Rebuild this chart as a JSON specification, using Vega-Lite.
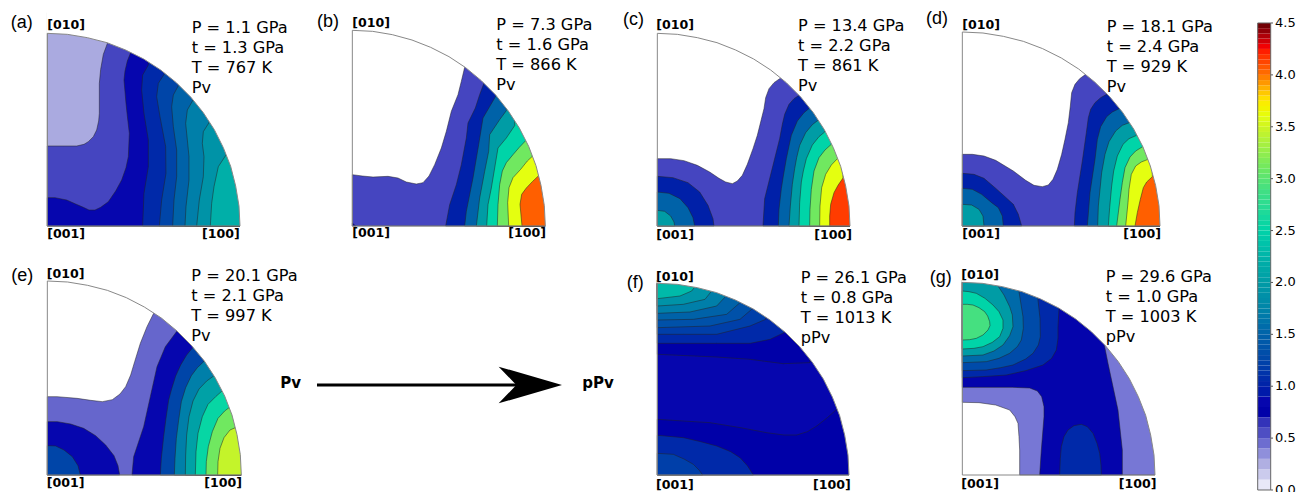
{"$schema":"https://vega.github.io/schema/vega-lite/v6.json","padding":0,"background":"white","spacing":0,
"config":{"view":{"stroke":null},"style":{"info":{"font":"DejaVu Sans","fontSize":16.2,"align":"left","baseline":"alphabetic","fill":"#2a2a2a"},"letter":{"font":"Liberation Sans","fontSize":18,"align":"left","baseline":"alphabetic","fill":"#2a2a2a"},"dir":{"font":"DejaVu Sans","fontWeight":"bold","fontSize":12.6,"align":"left","baseline":"alphabetic","fill":"#111"},"big":{"font":"DejaVu Sans","fontWeight":"bold","fontSize":15,"align":"left","baseline":"alphabetic","fill":"#111"},"tick":{"font":"DejaVu Sans","fontSize":13,"align":"left","baseline":"middle","fill":"#2a2a2a"}}},
"resolve":{"scale":{"color":"shared"}},
"datasets":{
"bands":[
{"p":"a","v":0.27,"type":"Polygon","coordinates":[[[0,0],[0,640],[640,640],[640,0],[0,0]]]},
{"p":"a","v":0.58,"type":"Polygon","coordinates":[[[0,0],[0,240],[50,240],[88,240],[110,245],[123,253],[138,268],[148,288],[154,315],[156,338],[156,428],[160,470],[168,515],[181,550],[181,640],[640,640],[640,0],[0,0]]]},
{"p":"a","v":0.85,"type":"Polygon","coordinates":[[[0,0],[0,85],[23,85],[58,78],[85,66],[108,56],[125,48],[143,48],[160,56],[183,73],[205,105],[223,138],[236,175],[243,208],[246,278],[240,330],[236,368],[230,438],[233,465],[240,495],[250,520],[250,640],[640,640],[640,0],[0,0]]]},
{"p":"a","v":1.05,"type":"Polygon","coordinates":[[[303,483],[286,453],[283,408],[290,338],[303,258],[303,178],[290,98],[286,0],[640,0],[640,640],[303,640],[303,483]]]},
{"p":"a","v":1.25,"type":"Polygon","coordinates":[[[351,456],[333,428],[328,388],[338,328],[355,238],[356,158],[343,78],[336,0],[640,0],[640,640],[351,640],[351,456]]]},
{"p":"a","v":1.5,"type":"Polygon","coordinates":[[[393,421],[378,393],[373,358],[378,298],[388,228],[388,148],[380,78],[376,0],[640,0],[640,640],[393,640],[393,421]]]},
{"p":"a","v":1.7,"type":"Polygon","coordinates":[[[436,376],[420,348],[415,308],[420,258],[425,208],[425,138],[416,58],[413,0],[640,0],[640,640],[436,640],[436,376]]]},
{"p":"a","v":1.9,"type":"Polygon","coordinates":[[[485,310],[468,283],[465,248],[470,208],[468,148],[456,78],[448,0],[640,0],[640,640],[485,640],[485,310]]]},
{"p":"a","v":2.2,"type":"Polygon","coordinates":[[[536,213],[513,178],[500,118],[493,68],[489,0],[640,0],[640,640],[536,640],[536,213]]]},
{"p":"b","v":0.58,"type":"Polygon","coordinates":[[[0,0],[0,154],[30,150],[62,147],[107,149],[137,144],[162,132],[192,126],[212,130],[230,150],[247,184],[267,234],[282,284],[297,344],[317,394],[327,434],[337,476],[337,640],[640,640],[640,0],[0,0]]]},
{"p":"b","v":0.85,"type":"Polygon","coordinates":[[[0,0],[0,9],[10,0],[0,0]]]},
{"p":"b","v":1.0,"type":"Polygon","coordinates":[[[394,426],[382,394],[369,354],[347,309],[342,264],[327,184],[312,124],[292,64],[280,0],[640,0],[640,640],[394,640],[394,426]]]},
{"p":"b","v":1.5,"type":"Polygon","coordinates":[[[430,389],[392,324],[379,244],[362,144],[342,44],[337,0],[640,0],[640,640],[430,640],[430,389]]]},
{"p":"b","v":2.0,"type":"Polygon","coordinates":[[[462,346],[442,319],[412,274],[409,224],[397,164],[382,84],[372,0],[640,0],[640,640],[462,640],[462,346]]]},
{"p":"b","v":2.5,"type":"Polygon","coordinates":[[[487,301],[462,264],[437,234],[427,174],[417,114],[407,64],[403,0],[640,0],[640,640],[487,640],[487,301]]]},
{"p":"b","v":3.1,"type":"Polygon","coordinates":[[[520,256],[500,235],[482,214],[462,190],[450,165],[442,124],[437,64],[435,0],[640,0],[640,640],[520,640],[520,256]]]},
{"p":"b","v":3.6,"type":"Polygon","coordinates":[[[540,209],[525,195],[505,170],[482,145],[470,115],[466,70],[469,0],[640,0],[640,640],[540,640],[540,209]]]},
{"p":"b","v":4.05,"type":"Polygon","coordinates":[[[560,152],[540,133],[522,114],[508,95],[503,65],[509,0],[640,0],[640,640],[560,640],[560,152]]]},
{"p":"c","v":0.58,"type":"Polygon","coordinates":[[[0,0],[0,202],[40,202],[80,196],[120,182],[157,162],[185,143],[205,132],[225,127],[240,135],[255,152],[270,185],[287,232],[300,272],[312,320],[320,352],[325,385],[335,412],[350,430],[370,444],[370,640],[640,640],[640,0],[0,0]]]},
{"p":"c","v":1.0,"type":"Polygon","coordinates":[[[425,392],[410,382],[395,365],[382,335],[375,305],[367,262],[347,182],[322,82],[317,0],[640,0],[640,640],[425,640],[425,392]]]},
{"p":"c","v":1.0,"type":"Polygon","coordinates":[[[0,0],[0,149],[47,145],[92,130],[127,102],[152,62],[167,22],[170,0],[0,0]]]},
{"p":"c","v":1.5,"type":"Polygon","coordinates":[[[457,354],[440,340],[420,315],[402,272],[395,240],[387,202],[378,150],[372,112],[365,50],[363,0],[640,0],[640,640],[457,640],[457,354]]]},
{"p":"c","v":1.5,"type":"Polygon","coordinates":[[[0,0],[0,102],[35,98],[68,82],[92,55],[107,25],[112,0],[0,0]]]},
{"p":"c","v":2.0,"type":"Polygon","coordinates":[[[482,317],[465,304],[445,280],[427,242],[418,205],[412,172],[405,125],[399,60],[395,0],[640,0],[640,640],[482,640],[482,317]]]},
{"p":"c","v":2.0,"type":"Polygon","coordinates":[[[0,0],[0,47],[22,44],[40,30],[50,12],[52,0],[0,0]]]},
{"p":"c","v":2.5,"type":"Polygon","coordinates":[[[502,282],[485,268],[465,243],[447,202],[438,165],[432,132],[427,70],[425,0],[640,0],[640,640],[502,640],[502,282]]]},
{"p":"c","v":3.1,"type":"Polygon","coordinates":[[[522,245],[503,228],[485,205],[470,165],[462,110],[458,50],[457,0],[640,0],[640,640],[522,640],[522,245]]]},
{"p":"c","v":3.6,"type":"Polygon","coordinates":[[[542,204],[522,183],[505,155],[493,115],[488,60],[487,0],[640,0],[640,640],[542,640],[542,204]]]},
{"p":"c","v":4.15,"type":"Polygon","coordinates":[[[557,144],[542,122],[530,100],[520,65],[517,30],[517,0],[640,0],[640,640],[557,640],[557,144]]]},
{"p":"d","v":0.58,"type":"Polygon","coordinates":[[[0,0],[0,215],[30,215],[65,210],[100,197],[153,165],[190,137],[215,122],[240,118],[258,123],[272,140],[285,170],[298,215],[308,260],[318,310],[324,360],[328,400],[338,425],[352,442],[370,455],[370,640],[640,640],[640,0],[0,0]]]},
{"p":"d","v":1.0,"type":"Polygon","coordinates":[[[433,395],[415,385],[398,370],[385,350],[378,325],[372,280],[360,195],[345,100],[338,40],[336,0],[640,0],[640,640],[433,640],[433,395]]]},
{"p":"d","v":1.0,"type":"Polygon","coordinates":[[[0,0],[0,158],[35,155],[65,143],[98,115],[128,88],[153,65],[168,35],[178,0],[0,0]]]},
{"p":"d","v":1.5,"type":"Polygon","coordinates":[[[470,352],[450,342],[433,328],[415,298],[405,260],[398,200],[383,100],[375,0],[640,0],[640,640],[470,640],[470,352]]]},
{"p":"d","v":1.5,"type":"Polygon","coordinates":[[[0,0],[0,113],[30,110],[58,95],[88,70],[108,55],[120,30],[123,0],[0,0]]]},
{"p":"d","v":2.0,"type":"Polygon","coordinates":[[[501,310],[480,302],[460,285],[440,253],[428,215],[418,160],[408,60],[406,0],[640,0],[640,640],[501,640],[501,310]]]},
{"p":"d","v":2.0,"type":"Polygon","coordinates":[[[0,0],[0,65],[28,63],[50,50],[62,30],[65,0],[0,0]]]},
{"p":"d","v":2.5,"type":"Polygon","coordinates":[[[523,272],[500,262],[482,245],[465,210],[454,165],[448,120],[442,55],[438,0],[640,0],[640,640],[523,640],[523,272]]]},
{"p":"d","v":3.1,"type":"Polygon","coordinates":[[[541,238],[520,225],[503,207],[488,175],[480,130],[473,80],[463,0],[640,0],[640,640],[541,640],[541,238]]]},
{"p":"d","v":3.6,"type":"Polygon","coordinates":[[[557,200],[537,192],[520,180],[507,155],[500,110],[497,70],[490,0],[640,0],[640,640],[557,640],[557,200]]]},
{"p":"d","v":4.05,"type":"Polygon","coordinates":[[[570,148],[553,132],[543,115],[534,80],[525,40],[518,0],[640,0],[640,640],[570,640],[570,148]]]},
{"p":"e","v":0.47,"type":"Polygon","coordinates":[[[0,0],[0,235],[29,235],[89,230],[130,224],[165,220],[195,226],[218,243],[235,265],[250,300],[262,340],[279,395],[299,445],[319,485],[319,640],[640,640],[640,0],[0,0]]]},
{"p":"e","v":0.85,"type":"Polygon","coordinates":[[[389,432],[354,385],[329,325],[309,235],[289,145],[259,55],[254,0],[640,0],[640,640],[389,640],[389,432]]]},
{"p":"e","v":0.85,"type":"Polygon","coordinates":[[[0,0],[0,160],[30,160],[70,153],[109,140],[145,118],[175,90],[200,58],[212,28],[217,0],[0,0]]]},
{"p":"e","v":1.25,"type":"Polygon","coordinates":[[[0,0],[0,88],[25,87],[50,75],[75,55],[92,28],[99,0],[0,0]]]},
{"p":"e","v":1.25,"type":"Polygon","coordinates":[[[437,383],[418,360],[400,330],[385,297],[372,255],[364,225],[356,170],[349,115],[342,50],[339,0],[640,0],[640,640],[437,640],[437,383]]]},
{"p":"e","v":1.7,"type":"Polygon","coordinates":[[[469,340],[450,322],[432,298],[415,262],[402,220],[394,165],[387,110],[383,50],[381,0],[640,0],[640,640],[469,640],[469,340]]]},
{"p":"e","v":2.05,"type":"Polygon","coordinates":[[[499,297],[478,282],[455,258],[437,222],[425,175],[418,120],[415,60],[414,0],[640,0],[640,640],[499,640],[499,297]]]},
{"p":"e","v":2.55,"type":"Polygon","coordinates":[[[524,252],[505,235],[482,212],[465,175],[452,125],[446,70],[444,0],[640,0],[640,640],[524,640],[524,252]]]},
{"p":"e","v":3.1,"type":"Polygon","coordinates":[[[549,205],[532,192],[512,170],[495,130],[483,85],[477,40],[476,0],[640,0],[640,640],[549,640],[549,205]]]},
{"p":"e","v":3.45,"type":"Polygon","coordinates":[[[564,142],[548,135],[530,112],[518,80],[512,40],[511,0],[640,0],[640,640],[564,640],[564,142]]]},
{"p":"f","v":0.85,"type":"Polygon","coordinates":[[[0,0],[0,585],[640,640],[640,0],[0,0]]]},
{"p":"f","v":0.72,"type":"Polygon","coordinates":[[[0,362],[178,354],[278,347],[378,334],[458,337],[458,640],[0,585],[0,362]]]},
{"p":"f","v":1.05,"type":"Polygon","coordinates":[[[0,395],[178,395],[278,395],[338,407],[380,427],[380,640],[0,585],[0,395]]]},
{"p":"f","v":1.2,"type":"Polygon","coordinates":[[[0,422],[78,422],[178,422],[278,447],[325,467],[325,640],[0,585],[0,422]]]},
{"p":"f","v":1.35,"type":"Polygon","coordinates":[[[0,442],[158,447],[248,467],[283,497],[283,640],[0,585],[0,442]]]},
{"p":"f","v":1.5,"type":"Polygon","coordinates":[[[0,465],[108,467],[208,482],[248,517],[248,640],[0,585],[0,465]]]},
{"p":"f","v":1.7,"type":"Polygon","coordinates":[[[0,485],[98,489],[178,507],[208,539],[208,640],[0,585],[0,485]]]},
{"p":"f","v":1.9,"type":"Polygon","coordinates":[[[0,507],[78,512],[143,527],[163,552],[163,640],[0,585],[0,507]]]},
{"p":"f","v":2.3,"type":"Polygon","coordinates":[[[0,529],[68,537],[103,552],[113,565],[113,640],[0,585],[0,529]]]},
{"p":"f","v":0.72,"type":"Polygon","coordinates":[[[0,167],[158,157],[250,142],[328,127],[380,120],[418,120],[450,130],[478,147],[510,172],[538,197],[640,197],[640,0],[0,0],[0,167]]]},
{"p":"f","v":1.05,"type":"Polygon","coordinates":[[[0,119],[78,112],[130,100],[178,87],[220,70],[248,52],[270,28],[288,0],[0,0],[0,119]]]},
{"p":"f","v":1.2,"type":"Polygon","coordinates":[[[0,65],[48,62],[80,48],[108,32],[125,15],[136,0],[0,0],[0,65]]]},
{"p":"g","v":0.42,"type":"Polygon","coordinates":[[[0,218],[50,217],[100,210],[142,195],[158,175],[167,155],[170,115],[172,75],[172,0],[640,0],[640,640],[0,585],[0,218]]]},
{"p":"g","v":0.8,"type":"Polygon","coordinates":[[[232,0],[237,75],[245,175],[245,205],[238,235],[225,252],[202,261],[150,263],[0,263],[0,585],[427,640],[427,385],[437,335],[467,195],[480,75],[480,0],[232,0]]]},
{"p":"g","v":1.05,"type":"Polygon","coordinates":[[[292,0],[294,50],[297,85],[305,115],[317,135],[335,148],[357,152],[375,145],[392,125],[404,95],[412,65],[416,30],[417,0],[292,0]]]},
{"p":"g","v":1.05,"type":"Polygon","coordinates":[[[0,292],[60,295],[132,300],[190,313],[242,330],[268,350],[282,375],[287,410],[287,445],[290,497],[290,640],[0,585],[0,292]]]},
{"p":"g","v":1.3,"type":"Polygon","coordinates":[[[0,313],[72,315],[115,322],[152,330],[190,348],[212,365],[228,390],[234,415],[233,470],[227,525],[227,640],[0,585],[0,313]]]},
{"p":"g","v":1.55,"type":"Polygon","coordinates":[[[0,337],[72,340],[110,350],[142,365],[165,385],[177,405],[183,440],[182,475],[170,550],[170,640],[0,585],[0,337]]]},
{"p":"g","v":2.0,"type":"Polygon","coordinates":[[[0,357],[62,360],[95,372],[122,390],[142,418],[152,445],[150,480],[142,505],[125,540],[107,567],[107,640],[0,585],[0,357]]]},
{"p":"g","v":2.5,"type":"Polygon","coordinates":[[[0,378],[35,380],[62,385],[90,398],[112,415],[122,440],[122,465],[110,490],[92,510],[68,530],[42,545],[20,550],[0,552],[0,378]]]},
{"p":"g","v":2.9,"type":"Polygon","coordinates":[[[0,405],[22,406],[42,410],[62,420],[77,435],[83,448],[82,460],[76,477],[67,490],[50,502],[32,510],[15,512],[0,512],[0,405]]]}
],
"masks":[
{"r":"A","type":"Polygon","coordinates":[[[578,0],[575,60],[565,120],[550,179],[528,235],[501,289],[468,340],[430,387],[387,430],[340,468],[289,501],[235,528],[179,550],[120,565],[60,575],[0,578],[-3,578],[-3,660],[660,660],[660,-3],[578,-3],[578,0]]]},
{"r":"B","type":"Polygon","coordinates":[[[579,0],[576,61],[566,122],[551,181],[529,239],[501,294],[468,345],[430,393],[387,436],[340,475],[290,508],[235,536],[179,558],[120,574],[61,584],[0,587],[-3,587],[-3,660],[660,660],[660,-3],[579,-3],[579,0]]]},
{"r":"D","type":"Polygon","coordinates":[[[593,0],[590,61],[580,121],[564,180],[542,237],[514,291],[480,342],[441,389],[397,432],[349,471],[297,504],[241,532],[183,554],[123,569],[62,579],[0,582],[-3,582],[-3,660],[660,660],[660,-3],[593,-3],[593,0]]]},
{"r":"E","type":"Polygon","coordinates":[[[582,0],[579,61],[569,121],[554,180],[532,237],[504,291],[471,342],[432,389],[389,432],[342,471],[291,504],[237,532],[180,554],[121,569],[61,579],[0,582],[-3,582],[-3,660],[660,660],[660,-3],[582,-3],[582,0]]]},
{"r":"F","type":"Polygon","coordinates":[[[575,0],[572,60],[562,120],[547,178],[525,234],[498,288],[465,338],[427,385],[385,427],[338,465],[288,498],[234,525],[178,547],[120,562],[60,572],[0,575],[-3,575],[-3,660],[660,660],[660,-3],[575,-3],[575,0]]]}
],
"outlines":[
{"r":"A","type":"Polygon","coordinates":[[[0,0],[578,0],[575,60],[565,120],[550,179],[528,235],[501,289],[468,340],[430,387],[387,430],[340,468],[289,501],[235,528],[179,550],[120,565],[60,575],[0,578],[0,0]]]},
{"r":"B","type":"Polygon","coordinates":[[[0,0],[579,0],[576,61],[566,122],[551,181],[529,239],[501,294],[468,345],[430,393],[387,436],[340,475],[290,508],[235,536],[179,558],[120,574],[61,584],[0,587],[0,0]]]},
{"r":"D","type":"Polygon","coordinates":[[[0,0],[593,0],[590,61],[580,121],[564,180],[542,237],[514,291],[480,342],[441,389],[397,432],[349,471],[297,504],[241,532],[183,554],[123,569],[62,579],[0,582],[0,0]]]},
{"r":"E","type":"Polygon","coordinates":[[[0,0],[582,0],[579,61],[569,121],[554,180],[532,237],[504,291],[471,342],[432,389],[389,432],[342,471],[291,504],[237,532],[180,554],[121,569],[61,579],[0,582],[0,0]]]},
{"r":"F","type":"Polygon","coordinates":[[[0,0],[575,0],[572,60],[562,120],[547,178],[525,234],[498,288],[465,338],[427,385],[385,427],[338,465],[288,498],[234,525],[178,547],[120,562],[60,572],[0,575],[0,0]]]}
],
"labels":[
{"p":"a","k":"i","x":433,"y":580,"t":"P = 1.1 GPa"},{"p":"a","k":"i","x":433,"y":520,"t":"t = 1.3 GPa"},{"p":"a","k":"i","x":433,"y":460,"t":"T = 767 K"},{"p":"a","k":"i","x":433,"y":400,"t":"Pv"},
{"p":"b","k":"i","x":432,"y":587,"t":"P = 7.3 GPa"},{"p":"b","k":"i","x":432,"y":527,"t":"t = 1.6 GPa"},{"p":"b","k":"i","x":432,"y":467,"t":"T = 866 K"},{"p":"b","k":"i","x":432,"y":407,"t":"Pv"},
{"p":"c","k":"i","x":422,"y":585,"t":"P = 13.4 GPa"},{"p":"c","k":"i","x":422,"y":525,"t":"t = 2.2 GPa"},{"p":"c","k":"i","x":422,"y":465,"t":"T = 861 K"},{"p":"c","k":"i","x":422,"y":405,"t":"Pv"},
{"p":"d","k":"i","x":433,"y":583,"t":"P = 18.1 GPa"},{"p":"d","k":"i","x":433,"y":523,"t":"t = 2.4 GPa"},{"p":"d","k":"i","x":433,"y":463,"t":"T = 929 K"},{"p":"d","k":"i","x":433,"y":403,"t":"Pv"},
{"p":"e","k":"i","x":432,"y":583,"t":"P = 20.1 GPa"},{"p":"e","k":"i","x":432,"y":523,"t":"t = 2.1 GPa"},{"p":"e","k":"i","x":432,"y":463,"t":"T = 997 K"},{"p":"e","k":"i","x":432,"y":403,"t":"Pv"},
{"p":"f","k":"i","x":430,"y":577,"t":"P = 26.1 GPa"},{"p":"f","k":"i","x":430,"y":517,"t":"t = 0.8 GPa"},{"p":"f","k":"i","x":430,"y":457,"t":"T = 1013 K"},{"p":"f","k":"i","x":430,"y":397,"t":"pPv"},
{"p":"g","k":"i","x":430,"y":580,"t":"P = 29.6 GPa"},{"p":"g","k":"i","x":430,"y":520,"t":"t = 1.0 GPa"},{"p":"g","k":"i","x":430,"y":460,"t":"T = 1003 K"},{"p":"g","k":"i","x":430,"y":400,"t":"pPv"},
{"p":"a","k":"l","x":-110,"y":593,"t":"(a)"},{"p":"b","k":"l","x":-106,"y":596,"t":"(b)"},{"p":"c","k":"l","x":-103,"y":604,"t":"(c)"},{"p":"d","k":"l","x":-109,"y":605,"t":"(d)"},{"p":"e","k":"l","x":-108,"y":582,"t":"(e)"},{"p":"f","k":"l","x":-92,"y":560,"t":"(f)"},{"p":"g","k":"l","x":-98,"y":575,"t":"(g)"},
{"p":"a","k":"d","x":0,"y":590,"t":"[010]"},{"p":"a","k":"d","x":0,"y":-37,"t":"[001]"},{"p":"a","k":"d","x":464,"y":-37,"t":"[100]"},
{"p":"b","k":"d","x":0,"y":596,"t":"[010]"},{"p":"b","k":"d","x":0,"y":-34,"t":"[001]"},{"p":"b","k":"d","x":468,"y":-34,"t":"[100]"},
{"p":"c","k":"d","x":-3,"y":590,"t":"[010]"},{"p":"c","k":"d","x":-3,"y":-38,"t":"[001]"},{"p":"c","k":"d","x":471,"y":-38,"t":"[100]"},
{"p":"d","k":"d","x":0,"y":590,"t":"[010]"},{"p":"d","k":"d","x":0,"y":-37,"t":"[001]"},{"p":"d","k":"d","x":483,"y":-37,"t":"[100]"},
{"p":"e","k":"d","x":-2,"y":590,"t":"[010]"},{"p":"e","k":"d","x":-2,"y":-37,"t":"[001]"},{"p":"e","k":"d","x":471,"y":-37,"t":"[100]"},
{"p":"f","k":"d","x":-4,"y":582,"t":"[010]"},{"p":"f","k":"d","x":-4,"y":-41,"t":"[001]"},{"p":"f","k":"d","x":467,"y":-41,"t":"[100]"},
{"p":"g","k":"d","x":-3,"y":587,"t":"[010]"},{"p":"g","k":"d","x":-3,"y":-39,"t":"[001]"},{"p":"g","k":"d","x":469,"y":-39,"t":"[100]"},
{"p":"e","k":"b","x":699,"y":260,"t":"Pv"},
{"p":"e","k":"b","x":1605,"y":260,"t":"pPv"}
],
"colorbar":[{"lo":0,"hi":0.1,"v":0.05},{"lo":0.1,"hi":0.2,"v":0.15},{"lo":0.2,"hi":0.3,"v":0.25},{"lo":0.3,"hi":0.4,"v":0.35},{"lo":0.4,"hi":0.5,"v":0.45},{"lo":0.5,"hi":0.6,"v":0.55},{"lo":0.6,"hi":0.7,"v":0.65},{"lo":0.7,"hi":0.8,"v":0.75},{"lo":0.8,"hi":0.9,"v":0.85},{"lo":0.9,"hi":1.0,"v":0.95},{"lo":1.0,"hi":1.05,"v":1.02},{"lo":1.05,"hi":1.1,"v":1.07},{"lo":1.1,"hi":1.15,"v":1.12},{"lo":1.15,"hi":1.2,"v":1.17},{"lo":1.2,"hi":1.25,"v":1.22},{"lo":1.25,"hi":1.3,"v":1.27},{"lo":1.3,"hi":1.35,"v":1.32},{"lo":1.35,"hi":1.4,"v":1.37},{"lo":1.4,"hi":1.45,"v":1.42},{"lo":1.45,"hi":1.5,"v":1.47},{"lo":1.5,"hi":1.55,"v":1.52},{"lo":1.55,"hi":1.6,"v":1.57},{"lo":1.6,"hi":1.65,"v":1.62},{"lo":1.65,"hi":1.7,"v":1.67},{"lo":1.7,"hi":1.75,"v":1.72},{"lo":1.75,"hi":1.8,"v":1.77},{"lo":1.8,"hi":1.85,"v":1.82},{"lo":1.85,"hi":1.9,"v":1.87},{"lo":1.9,"hi":1.95,"v":1.92},{"lo":1.95,"hi":2.0,"v":1.97},{"lo":2.0,"hi":2.05,"v":2.02},{"lo":2.05,"hi":2.1,"v":2.07},{"lo":2.1,"hi":2.15,"v":2.12},{"lo":2.15,"hi":2.2,"v":2.17},{"lo":2.2,"hi":2.25,"v":2.22},{"lo":2.25,"hi":2.3,"v":2.27},{"lo":2.3,"hi":2.35,"v":2.32},{"lo":2.35,"hi":2.4,"v":2.37},{"lo":2.4,"hi":2.45,"v":2.42},{"lo":2.45,"hi":2.5,"v":2.47},{"lo":2.5,"hi":2.55,"v":2.52},{"lo":2.55,"hi":2.6,"v":2.57},{"lo":2.6,"hi":2.65,"v":2.62},{"lo":2.65,"hi":2.7,"v":2.67},{"lo":2.7,"hi":2.75,"v":2.72},{"lo":2.75,"hi":2.8,"v":2.77},{"lo":2.8,"hi":2.85,"v":2.82},{"lo":2.85,"hi":2.9,"v":2.87},{"lo":2.9,"hi":2.95,"v":2.92},{"lo":2.95,"hi":3.0,"v":2.97},{"lo":3.0,"hi":3.05,"v":3.02},{"lo":3.05,"hi":3.1,"v":3.07},{"lo":3.1,"hi":3.15,"v":3.12},{"lo":3.15,"hi":3.2,"v":3.17},{"lo":3.2,"hi":3.25,"v":3.22},{"lo":3.25,"hi":3.3,"v":3.27},{"lo":3.3,"hi":3.35,"v":3.32},{"lo":3.35,"hi":3.4,"v":3.37},{"lo":3.4,"hi":3.45,"v":3.42},{"lo":3.45,"hi":3.5,"v":3.47},{"lo":3.5,"hi":3.55,"v":3.52},{"lo":3.55,"hi":3.6,"v":3.57},{"lo":3.6,"hi":3.65,"v":3.62},{"lo":3.65,"hi":3.7,"v":3.67},{"lo":3.7,"hi":3.75,"v":3.72},{"lo":3.75,"hi":3.8,"v":3.77},{"lo":3.8,"hi":3.85,"v":3.82},{"lo":3.85,"hi":3.9,"v":3.87},{"lo":3.9,"hi":3.95,"v":3.92},{"lo":3.95,"hi":4.0,"v":3.97},{"lo":4.0,"hi":4.05,"v":4.02},{"lo":4.05,"hi":4.1,"v":4.07},{"lo":4.1,"hi":4.15,"v":4.12},{"lo":4.15,"hi":4.2,"v":4.17},{"lo":4.2,"hi":4.25,"v":4.22},{"lo":4.25,"hi":4.3,"v":4.27},{"lo":4.3,"hi":4.35,"v":4.32},{"lo":4.35,"hi":4.4,"v":4.37},{"lo":4.4,"hi":4.45,"v":4.42},{"lo":4.45,"hi":4.5,"v":4.47}],
"ticks":[{"v":0},{"v":0.5},{"v":1},{"v":1.5},{"v":2},{"v":2.5},{"v":3},{"v":3.5},{"v":4},{"v":4.5}],
"frame":[{"a":0,"b":4.5}],
"arrow":[{"type":"Polygon","coordinates":[[[1544,270],[1354,325],[1407,270],[1354,215],[1544,270]]]}],
"shaft":[{"type":"LineString","coordinates":[[809,270],[1414,270]]}]
},
"hconcat":[
{"concat":[
{"width":305,"height":249,"projection":{"type":"identity","reflectY":true,"scale":0.33333,"translate":[47.33,226]},"layer":[
{"data":{"name":"bands"},"transform":[{"filter":"datum.p=='a'"}],"mark":{"type":"geoshape","stroke":"#222","strokeWidth":0.5},"encoding":{"color":{"field":"v","type":"quantitative","legend":null,"scale":{"domain":[0,0.27,0.42,0.47,0.58,0.66,0.72,0.85,1.0,1.25,1.5,1.75,2.0,2.25,2.5,2.9,3.1,3.5,3.6,3.75,4.0,4.1,4.25,4.5],"range":["#f6f6fd","#aaaae0","#7777d5","#6666cc","#4545c0","#3030b8","#0000a8","#0606ae","#0020a8","#0045a8","#0062a8","#0085a8","#009ca5","#00b4a8","#00d4a8","#45e080","#70e860","#d0f520","#e4ff10","#ffe800","#ff7000","#ff4a00","#ff0000","#600000"]}}}},
{"data":{"name":"masks"},"transform":[{"filter":"datum.r=='A'"}],"mark":{"type":"geoshape","fill":"white","stroke":"white","strokeWidth":0},"encoding":{}},
{"data":{"name":"outlines"},"transform":[{"filter":"datum.r=='A'"}],"mark":{"type":"geoshape","filled":false,"stroke":"#888","strokeWidth":1},"encoding":{}},
{"data":{"name":"labels"},"transform":[{"filter":"datum.p=='a'&&datum.k=='i'"}],"mark":{"type":"text","style":"info"},"encoding":{"longitude":{"field":"x","type":"quantitative"},"latitude":{"field":"y","type":"quantitative"},"text":{"field":"t"}}},
{"data":{"name":"labels"},"transform":[{"filter":"datum.p=='a'&&datum.k=='l'"}],"mark":{"type":"text","style":"letter"},"encoding":{"longitude":{"field":"x","type":"quantitative"},"latitude":{"field":"y","type":"quantitative"},"text":{"field":"t"}}},
{"data":{"name":"labels"},"transform":[{"filter":"datum.p=='a'&&datum.k=='d'"}],"mark":{"type":"text","style":"dir"},"encoding":{"longitude":{"field":"x","type":"quantitative"},"latitude":{"field":"y","type":"quantitative"},"text":{"field":"t"}}}
]},
{"width":305,"height":249,"projection":{"type":"identity","reflectY":true,"scale":0.33333,"translate":[47.67,228]},"layer":[
{"data":{"name":"bands"},"transform":[{"filter":"datum.p=='b'"}],"mark":{"type":"geoshape","stroke":"#222","strokeWidth":0.5},"encoding":{"color":{"field":"v","type":"quantitative","legend":null}}},
{"data":{"name":"masks"},"transform":[{"filter":"datum.r=='B'"}],"mark":{"type":"geoshape","fill":"white","stroke":"white","strokeWidth":0},"encoding":{}},
{"data":{"name":"outlines"},"transform":[{"filter":"datum.r=='B'"}],"mark":{"type":"geoshape","filled":false,"stroke":"#888","strokeWidth":1},"encoding":{}},
{"data":{"name":"labels"},"transform":[{"filter":"datum.p=='b'&&datum.k=='i'"}],"mark":{"type":"text","style":"info"},"encoding":{"longitude":{"field":"x","type":"quantitative"},"latitude":{"field":"y","type":"quantitative"},"text":{"field":"t"}}},
{"data":{"name":"labels"},"transform":[{"filter":"datum.p=='b'&&datum.k=='l'"}],"mark":{"type":"text","style":"letter"},"encoding":{"longitude":{"field":"x","type":"quantitative"},"latitude":{"field":"y","type":"quantitative"},"text":{"field":"t"}}},
{"data":{"name":"labels"},"transform":[{"filter":"datum.p=='b'&&datum.k=='d'"}],"mark":{"type":"text","style":"dir"},"encoding":{"longitude":{"field":"x","type":"quantitative"},"latitude":{"field":"y","type":"quantitative"},"text":{"field":"t"}}}
]},
{"width":305,"height":249,"projection":{"type":"identity","reflectY":true,"scale":0.33333,"translate":[46,227.33]},"layer":[
{"data":{"name":"bands"},"transform":[{"filter":"datum.p=='c'"}],"mark":{"type":"geoshape","stroke":"#222","strokeWidth":0.5},"encoding":{"color":{"field":"v","type":"quantitative","legend":null}}},
{"data":{"name":"masks"},"transform":[{"filter":"datum.r=='A'"}],"mark":{"type":"geoshape","fill":"white","stroke":"white","strokeWidth":0},"encoding":{}},
{"data":{"name":"outlines"},"transform":[{"filter":"datum.r=='A'"}],"mark":{"type":"geoshape","filled":false,"stroke":"#888","strokeWidth":1},"encoding":{}},
{"data":{"name":"labels"},"transform":[{"filter":"datum.p=='c'&&datum.k=='i'"}],"mark":{"type":"text","style":"info"},"encoding":{"longitude":{"field":"x","type":"quantitative"},"latitude":{"field":"y","type":"quantitative"},"text":{"field":"t"}}},
{"data":{"name":"labels"},"transform":[{"filter":"datum.p=='c'&&datum.k=='l'"}],"mark":{"type":"text","style":"letter"},"encoding":{"longitude":{"field":"x","type":"quantitative"},"latitude":{"field":"y","type":"quantitative"},"text":{"field":"t"}}},
{"data":{"name":"labels"},"transform":[{"filter":"datum.p=='c'&&datum.k=='d'"}],"mark":{"type":"text","style":"dir"},"encoding":{"longitude":{"field":"x","type":"quantitative"},"latitude":{"field":"y","type":"quantitative"},"text":{"field":"t"}}}
]},
{"width":305,"height":249,"projection":{"type":"identity","reflectY":true,"scale":0.33333,"translate":[47.33,226.67]},"layer":[
{"data":{"name":"bands"},"transform":[{"filter":"datum.p=='d'"}],"mark":{"type":"geoshape","stroke":"#222","strokeWidth":0.5},"encoding":{"color":{"field":"v","type":"quantitative","legend":null}}},
{"data":{"name":"masks"},"transform":[{"filter":"datum.r=='D'"}],"mark":{"type":"geoshape","fill":"white","stroke":"white","strokeWidth":0},"encoding":{}},
{"data":{"name":"outlines"},"transform":[{"filter":"datum.r=='D'"}],"mark":{"type":"geoshape","filled":false,"stroke":"#888","strokeWidth":1},"encoding":{}},
{"data":{"name":"labels"},"transform":[{"filter":"datum.p=='d'&&datum.k=='i'"}],"mark":{"type":"text","style":"info"},"encoding":{"longitude":{"field":"x","type":"quantitative"},"latitude":{"field":"y","type":"quantitative"},"text":{"field":"t"}}},
{"data":{"name":"labels"},"transform":[{"filter":"datum.p=='d'&&datum.k=='l'"}],"mark":{"type":"text","style":"letter"},"encoding":{"longitude":{"field":"x","type":"quantitative"},"latitude":{"field":"y","type":"quantitative"},"text":{"field":"t"}}},
{"data":{"name":"labels"},"transform":[{"filter":"datum.p=='d'&&datum.k=='d'"}],"mark":{"type":"text","style":"dir"},"encoding":{"longitude":{"field":"x","type":"quantitative"},"latitude":{"field":"y","type":"quantitative"},"text":{"field":"t"}}}
]},
{"width":305,"height":243,"projection":{"type":"identity","reflectY":true,"scale":0.33333,"translate":[47,226]},"layer":[
{"data":{"name":"bands"},"transform":[{"filter":"datum.p=='e'"}],"mark":{"type":"geoshape","stroke":"#222","strokeWidth":0.5},"encoding":{"color":{"field":"v","type":"quantitative","legend":null}}},
{"data":{"name":"masks"},"transform":[{"filter":"datum.r=='E'"}],"mark":{"type":"geoshape","fill":"white","stroke":"white","strokeWidth":0},"encoding":{}},
{"data":{"name":"outlines"},"transform":[{"filter":"datum.r=='E'"}],"mark":{"type":"geoshape","filled":false,"stroke":"#888","strokeWidth":1},"encoding":{}},
{"data":{"name":"shaft"},"mark":{"type":"geoshape","filled":false,"stroke":"#000","strokeWidth":3,"clip":false},"encoding":{}},
{"data":{"name":"arrow"},"mark":{"type":"geoshape","fill":"#000","stroke":"#000","strokeWidth":0,"clip":false},"encoding":{}},
{"data":{"name":"labels"},"transform":[{"filter":"datum.p=='e'&&datum.k=='i'"}],"mark":{"type":"text","style":"info"},"encoding":{"longitude":{"field":"x","type":"quantitative"},"latitude":{"field":"y","type":"quantitative"},"text":{"field":"t"}}},
{"data":{"name":"labels"},"transform":[{"filter":"datum.p=='e'&&datum.k=='l'"}],"mark":{"type":"text","style":"letter"},"encoding":{"longitude":{"field":"x","type":"quantitative"},"latitude":{"field":"y","type":"quantitative"},"text":{"field":"t"}}},
{"data":{"name":"labels"},"transform":[{"filter":"datum.p=='e'&&datum.k=='d'"}],"mark":{"type":"text","style":"dir"},"encoding":{"longitude":{"field":"x","type":"quantitative"},"latitude":{"field":"y","type":"quantitative"},"text":{"field":"t"}}},
{"data":{"name":"labels"},"transform":[{"filter":"datum.p=='e'&&datum.k=='b'"}],"mark":{"type":"text","style":"big","clip":false},"encoding":{"longitude":{"field":"x","type":"quantitative"},"latitude":{"field":"y","type":"quantitative"},"text":{"field":"t"}}}
]},
{"width":305,"height":243,"data":{"values":[]},"mark":{"type":"point","opacity":0},"encoding":{}},
{"width":305,"height":243,"projection":{"type":"identity","reflectY":true,"scale":0.33333,"translate":[45.67,225]},"layer":[
{"data":{"name":"bands"},"transform":[{"filter":"datum.p=='f'"}],"mark":{"type":"geoshape","stroke":"#222","strokeWidth":0.5},"encoding":{"color":{"field":"v","type":"quantitative","legend":null}}},
{"data":{"name":"masks"},"transform":[{"filter":"datum.r=='F'"}],"mark":{"type":"geoshape","fill":"white","stroke":"white","strokeWidth":0},"encoding":{}},
{"data":{"name":"outlines"},"transform":[{"filter":"datum.r=='F'"}],"mark":{"type":"geoshape","filled":false,"stroke":"#888","strokeWidth":1},"encoding":{}},
{"data":{"name":"labels"},"transform":[{"filter":"datum.p=='f'&&datum.k=='i'"}],"mark":{"type":"text","style":"info"},"encoding":{"longitude":{"field":"x","type":"quantitative"},"latitude":{"field":"y","type":"quantitative"},"text":{"field":"t"}}},
{"data":{"name":"labels"},"transform":[{"filter":"datum.p=='f'&&datum.k=='l'"}],"mark":{"type":"text","style":"letter"},"encoding":{"longitude":{"field":"x","type":"quantitative"},"latitude":{"field":"y","type":"quantitative"},"text":{"field":"t"}}},
{"data":{"name":"labels"},"transform":[{"filter":"datum.p=='f'&&datum.k=='d'"}],"mark":{"type":"text","style":"dir"},"encoding":{"longitude":{"field":"x","type":"quantitative"},"latitude":{"field":"y","type":"quantitative"},"text":{"field":"t"}}}
]},
{"width":305,"height":243,"projection":{"type":"identity","reflectY":true,"scale":0.33333,"translate":[47.67,226]},"layer":[
{"data":{"name":"bands"},"transform":[{"filter":"datum.p=='g'"}],"mark":{"type":"geoshape","stroke":"#222","strokeWidth":0.5},"encoding":{"color":{"field":"v","type":"quantitative","legend":null}}},
{"data":{"name":"masks"},"transform":[{"filter":"datum.r=='A'"}],"mark":{"type":"geoshape","fill":"white","stroke":"white","strokeWidth":0},"encoding":{}},
{"data":{"name":"outlines"},"transform":[{"filter":"datum.r=='A'"}],"mark":{"type":"geoshape","filled":false,"stroke":"#888","strokeWidth":1},"encoding":{}},
{"data":{"name":"labels"},"transform":[{"filter":"datum.p=='g'&&datum.k=='i'"}],"mark":{"type":"text","style":"info"},"encoding":{"longitude":{"field":"x","type":"quantitative"},"latitude":{"field":"y","type":"quantitative"},"text":{"field":"t"}}},
{"data":{"name":"labels"},"transform":[{"filter":"datum.p=='g'&&datum.k=='l'"}],"mark":{"type":"text","style":"letter"},"encoding":{"longitude":{"field":"x","type":"quantitative"},"latitude":{"field":"y","type":"quantitative"},"text":{"field":"t"}}},
{"data":{"name":"labels"},"transform":[{"filter":"datum.p=='g'&&datum.k=='d'"}],"mark":{"type":"text","style":"dir"},"encoding":{"longitude":{"field":"x","type":"quantitative"},"latitude":{"field":"y","type":"quantitative"},"text":{"field":"t"}}}
]}
],"columns":4,"spacing":0,"align":"each","bounds":"flush","resolve":{"scale":{"color":"shared"}}},
{"width":79,"height":492,"layer":[
{"data":{"name":"colorbar"},"mark":{"type":"rect"},"encoding":{"x":{"datum":37.7,"type":"quantitative","scale":{"domain":[0,79],"nice":false,"zero":false},"axis":null},"x2":{"datum":50.7},"y":{"field":"lo","type":"quantitative","scale":{"domain":[-0.0193,4.7216],"nice":false,"zero":false},"axis":null},"y2":{"field":"hi"},"color":{"field":"v","type":"quantitative","legend":null}}},
{"data":{"name":"ticks"},"mark":{"type":"rule","color":"#555","strokeWidth":1},"encoding":{"x":{"datum":50.7,"type":"quantitative","scale":{"domain":[0,79],"nice":false,"zero":false},"axis":null},"x2":{"datum":53},"y":{"field":"v","type":"quantitative","scale":{"domain":[-0.0193,4.7216],"nice":false,"zero":false},"axis":null}}},
{"data":{"name":"ticks"},"mark":{"type":"text","style":"tick"},"encoding":{"x":{"datum":55,"type":"quantitative","scale":{"domain":[0,79],"nice":false,"zero":false},"axis":null},"y":{"field":"v","type":"quantitative","scale":{"domain":[-0.0193,4.7216],"nice":false,"zero":false},"axis":null},"text":{"field":"v","type":"quantitative","format":".1f"}}},
{"data":{"name":"frame"},"mark":{"type":"rect","filled":false,"stroke":"#666","strokeWidth":1},"encoding":{"x":{"datum":37.7,"type":"quantitative","scale":{"domain":[0,79],"nice":false,"zero":false},"axis":null},"x2":{"datum":50.7},"y":{"field":"a","type":"quantitative","scale":{"domain":[-0.0193,4.7216],"nice":false,"zero":false},"axis":null},"y2":{"field":"b"}}}
]}
]}
